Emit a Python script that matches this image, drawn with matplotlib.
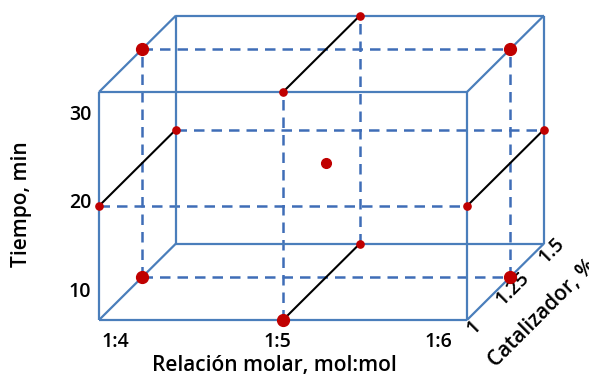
import matplotlib
matplotlib.use("Agg")
import matplotlib.pyplot as plt

# ---------------- data ----------------
molar_levels = ["1:4", "1:5", "1:6"]          # Relación molar, mol:mol
time_levels = [10, 20, 30]                     # Tiempo, min
cat_levels = [1, 1.25, 1.5]                    # Catalizador, %
cat_labels = ["1", "1.25", "1.5"]

# Box-Behnken runs (actual factor values)
run_molar = ["1:4", "1:6", "1:4", "1:6", "1:5", "1:5", "1:4", "1:6", "1:5", "1:5", "1:4", "1:6", "1:5"]
run_time  = [30,    30,    10,    10,    30,    10,    20,    20,    30,    10,    20,    20,    20]
run_cat   = [1.25,  1.25,  1.25,  1.25,  1,     1,     1,     1,     1.5,   1.5,   1.5,   1.5,   1.25]

x_title = "Relación molar, mol:mol"
y_title = "Tiempo, min"
z_title = "Catalizador, %"

# ---------------- styles / layout ----------------
marker_sizes = [8.5, 8.5, 8.5, 8.5, 5.2, 8.5, 5.2, 5.2, 5.2, 5.2, 5.2, 5.2, 7]
BLUE = "#4A7EBB"
DBLUE = "#3F6DB7"
RED = "#C00000"
FONT = "Open Sans"

# oblique projection layout (pixel-like axes units)
X0, Y0 = 99, 320          # front-bottom-left corner
SX, SY = 184, 114         # size of one coded step
DX, DY = 77, -76.5        # full depth offset
depth_frac = {-1: 0.0, 0: 0.56, 1: 1.0}


def code(levels, v):
    return levels.index(v) - 1


def proj(cx, cy, cz):
    f = depth_frac[cz]
    return X0 + (cx + 1) * SX + f * DX, Y0 - (cy + 1) * SY + f * DY


fig = plt.figure(figsize=(5.89, 3.79), dpi=100)
ax = fig.add_axes([0, 0, 1, 1])
ax.set_xlim(0, 589)
ax.set_ylim(379, 0)
ax.axis("off")


def seg(a, b, **kw):
    p, q = proj(*a), proj(*b)
    ax.plot([p[0], q[0]], [p[1], q[1]], **kw)


solid = dict(color=BLUE, lw=1.6, solid_capstyle="butt", zorder=2)
dashed = dict(color=DBLUE, lw=1.8, ls=(0, (4.2, 2.8)), zorder=1)
black = dict(color="black", lw=1.5, zorder=3)

# cube wireframe
for z in (-1, 1):
    seg((-1, -1, z), (1, -1, z), **solid)
    seg((-1, 1, z), (1, 1, z), **solid)
    seg((-1, -1, z), (-1, 1, z), **solid)
    seg((1, -1, z), (1, 1, z), **solid)
for x in (-1, 1):
    for y in (-1, 1):
        seg((x, y, -1), (x, y, 1), **solid)

# dashed guides: middle slice rectangle
seg((-1, 1, 0), (1, 1, 0), **dashed)
seg((-1, -1, 0), (1, -1, 0), **dashed)
seg((-1, -1, 0), (-1, 1, 0), **dashed)
seg((1, -1, 0), (1, 1, 0), **dashed)
# dashed mid lines on front and back faces
for z in (-1, 1):
    seg((0, -1, z), (0, 1, z), **dashed)
    seg((-1, 0, z), (1, 0, z), **dashed)

# black depth lines
seg((0, 1, -1), (0, 1, 1), **black)
seg((0, -1, -1), (0, -1, 1), **black)
seg((-1, 0, -1), (-1, 0, 1), **black)
seg((1, 0, -1), (1, 0, 1), **black)

# design points
for m, t, c, s in zip(run_molar, run_time, run_cat, marker_sizes):
    px, py = proj(code(molar_levels, m), code(time_levels, t), code(cat_levels, c))
    ax.plot(px, py, "o", ms=s, color=RED, mec=RED, zorder=5)

tk = dict(fontsize=14, fontweight="semibold", family=FONT, color="black")
tt = dict(fontsize=15, fontweight="semibold", family=FONT, color="black")
# y tick labels
for i, t in enumerate(time_levels):
    ax.text(80, 203.5 - (i - 1) * 88.5, str(t), ha="center", va="center", **tk)
# x tick labels
for i, m in enumerate(molar_levels):
    ax.text(277 + (i - 1) * 161.5, 342, m, ha="center", va="center", **tk)
# catalyst labels
for i, c in enumerate(cat_labels):
    ax.text(474 + i * 39, 327 - i * 38, c, ha="center", va="center",
            rotation=45, rotation_mode="anchor", **tk)

ax.text(22, 204, y_title, rotation=90, ha="center", va="center", **tt)
ax.text(274, 366, x_title, ha="center", va="center", **tt)
ax.text(543, 313, z_title, rotation=45, rotation_mode="anchor",
        ha="center", va="center", **tt)

fig.savefig("out.png", dpi=100)
